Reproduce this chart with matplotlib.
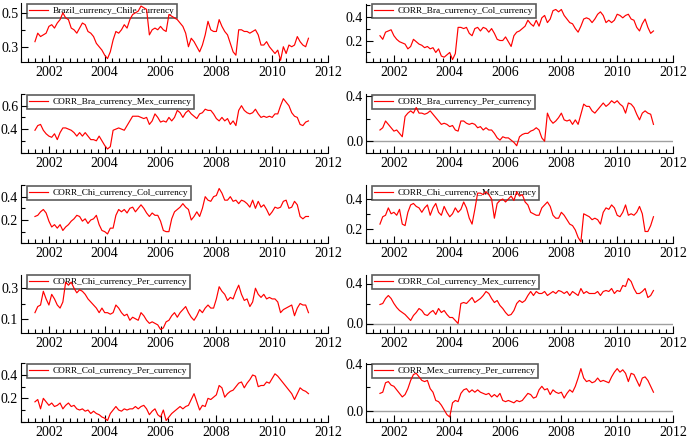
import numpy as np
import matplotlib
matplotlib.use("Agg")
import matplotlib.pyplot as plt
from matplotlib.ticker import MultipleLocator

plt.rcParams['font.family'] = ['Liberation Serif', 'DejaVu Serif']

# decimal-year dates, one reading every 0.1 year
years = np.round(np.arange(2001.5, 2011.35, 0.1), 1)

bra_chi = [0.33, 0.38, 0.36, 0.37, 0.38,
           0.42, 0.43, 0.41, 0.44, 0.46, 0.50, 0.47, 0.46, 0.41, 0.40,
           0.38, 0.41, 0.44, 0.43, 0.39, 0.38, 0.36, 0.32, 0.30, 0.28,
           0.25, 0.23, 0.27, 0.34, 0.39, 0.38, 0.40, 0.43, 0.41, 0.46,
           0.49, 0.50, 0.51, 0.54, 0.53, 0.52, 0.37, 0.40, 0.41, 0.40,
           0.42, 0.40, 0.39, 0.49, 0.48, 0.47, 0.46, 0.44, 0.42, 0.38,
           0.30, 0.35, 0.33, 0.30, 0.27, 0.31, 0.37, 0.45, 0.40, 0.39,
           0.39, 0.46, 0.42, 0.39, 0.37, 0.32, 0.27, 0.25, 0.40, 0.40,
           0.39, 0.39, 0.38, 0.39, 0.40, 0.37, 0.31, 0.31, 0.33, 0.30,
           0.28, 0.26, 0.28, 0.22, 0.30, 0.26, 0.31, 0.30, 0.31, 0.36,
           0.33, 0.31, 0.30, 0.35]

bra_col = [0.24, 0.21, 0.27, 0.28, 0.29,
           0.24, 0.21, 0.19, 0.18, 0.17, 0.13, 0.15, 0.21, 0.19, 0.17,
           0.16, 0.14, 0.15, 0.13, 0.14, 0.10, 0.13, 0.07, 0.06, 0.08,
           0.10, 0.04, 0.09, 0.31, 0.31, 0.30, 0.31, 0.26, 0.24, 0.30,
           0.31, 0.28, 0.31, 0.30, 0.27, 0.30, 0.26, 0.21, 0.20, 0.20,
           0.23, 0.19, 0.15, 0.24, 0.27, 0.28, 0.30, 0.32, 0.37, 0.34,
           0.32, 0.37, 0.32, 0.39, 0.41, 0.35, 0.38, 0.45, 0.46, 0.44,
           0.46, 0.41, 0.38, 0.35, 0.34, 0.30, 0.27, 0.32, 0.38, 0.39,
           0.38, 0.35, 0.38, 0.42, 0.44, 0.41, 0.35, 0.37, 0.35, 0.37,
           0.42, 0.41, 0.39, 0.41, 0.42, 0.38, 0.37, 0.31, 0.28, 0.34,
           0.38, 0.31, 0.26, 0.28]

bra_mex = [0.39, 0.43, 0.44, 0.39, 0.36,
           0.34, 0.33, 0.36, 0.31, 0.37, 0.41, 0.41, 0.40, 0.39, 0.37,
           0.34, 0.37, 0.34, 0.37, 0.34, 0.31, 0.31, 0.30, 0.34, 0.30,
           0.26, 0.23, 0.25, 0.39, 0.40, 0.41, 0.40, 0.39, 0.43, 0.47,
           0.51, 0.51, 0.51, 0.50, 0.49, 0.50, 0.44, 0.47, 0.53, 0.50,
           0.46, 0.47, 0.46, 0.50, 0.47, 0.50, 0.56, 0.54, 0.50, 0.54,
           0.56, 0.53, 0.51, 0.49, 0.53, 0.54, 0.57, 0.56, 0.56, 0.53,
           0.49, 0.47, 0.50, 0.47, 0.49, 0.44, 0.47, 0.43, 0.56, 0.60,
           0.56, 0.54, 0.53, 0.54, 0.57, 0.53, 0.50, 0.51, 0.50, 0.51,
           0.50, 0.53, 0.53, 0.60, 0.66, 0.63, 0.60, 0.54, 0.51, 0.50,
           0.44, 0.43, 0.46, 0.47]

bra_per = [0.10, 0.12, 0.18, 0.15, 0.12,
           0.09, 0.10, 0.07, 0.04, 0.22, 0.25, 0.27, 0.25, 0.30, 0.25,
           0.25, 0.24, 0.25, 0.27, 0.24, 0.21, 0.18, 0.15, 0.16, 0.15,
           0.13, 0.14, 0.10, 0.09, 0.18, 0.18, 0.16, 0.15, 0.16, 0.15,
           0.12, 0.13, 0.10, 0.12, 0.10, 0.10, 0.07, 0.03, 0.01, 0.04,
           0.03, 0.03, 0.01, -0.01, -0.04, 0.04, 0.06, 0.07, 0.07, 0.09,
           0.10, 0.12, 0.10, 0.03, 0.00, 0.25, 0.19, 0.16, 0.18, 0.21,
           0.25, 0.19, 0.18, 0.19, 0.15, 0.19, 0.15, 0.24, 0.33, 0.31,
           0.31, 0.27, 0.25, 0.28, 0.31, 0.34, 0.31, 0.33, 0.36, 0.34,
           0.36, 0.33, 0.31, 0.25, 0.34, 0.33, 0.30, 0.24, 0.19, 0.25,
           0.27, 0.25, 0.24, 0.15]

chi_col = [0.23, 0.24, 0.27, 0.29, 0.26,
           0.19, 0.14, 0.16, 0.13, 0.16, 0.11, 0.14, 0.16, 0.19, 0.21,
           0.24, 0.23, 0.19, 0.21, 0.17, 0.20, 0.21, 0.24, 0.16, 0.11,
           0.10, 0.08, 0.13, 0.13, 0.24, 0.29, 0.27, 0.29, 0.26, 0.30,
           0.31, 0.27, 0.30, 0.33, 0.30, 0.26, 0.23, 0.26, 0.24, 0.24,
           0.19, 0.11, 0.10, 0.10, 0.21, 0.27, 0.29, 0.31, 0.34, 0.31,
           0.29, 0.20, 0.23, 0.27, 0.23, 0.30, 0.40, 0.37, 0.36, 0.40,
           0.41, 0.47, 0.43, 0.37, 0.37, 0.40, 0.36, 0.37, 0.34, 0.37,
           0.36, 0.34, 0.31, 0.37, 0.30, 0.36, 0.31, 0.33, 0.29, 0.24,
           0.27, 0.31, 0.30, 0.31, 0.36, 0.37, 0.30, 0.31, 0.36, 0.33,
           0.23, 0.21, 0.23, 0.23]

chi_mex = [0.23, 0.28, 0.29, 0.34, 0.30,
           0.31, 0.29, 0.33, 0.23, 0.22, 0.31, 0.36, 0.37, 0.35, 0.34,
           0.31, 0.34, 0.36, 0.29, 0.34, 0.37, 0.31, 0.29, 0.35, 0.31,
           0.28, 0.30, 0.34, 0.31, 0.33, 0.38, 0.34, 0.27, 0.23, 0.33,
           0.44, 0.44, 0.43, 0.45, 0.43, 0.40, 0.27, 0.37, 0.39, 0.40,
           0.38, 0.40, 0.42, 0.39, 0.45, 0.42, 0.43, 0.38, 0.36, 0.31,
           0.30, 0.29, 0.29, 0.34, 0.36, 0.38, 0.35, 0.29, 0.27, 0.27,
           0.31, 0.29, 0.26, 0.23, 0.22, 0.19, 0.14, 0.11, 0.30, 0.29,
           0.28, 0.26, 0.27, 0.26, 0.23, 0.31, 0.34, 0.33, 0.36, 0.34,
           0.29, 0.28, 0.31, 0.36, 0.29, 0.30, 0.29, 0.31, 0.35, 0.30,
           0.18, 0.18, 0.22, 0.28]

chi_per = [0.14, 0.18, 0.19, 0.28, 0.23,
           0.19, 0.26, 0.23, 0.19, 0.17, 0.21, 0.34, 0.32, 0.34, 0.30,
           0.27, 0.29, 0.28, 0.26, 0.23, 0.21, 0.19, 0.17, 0.14, 0.17,
           0.14, 0.14, 0.13, 0.14, 0.19, 0.17, 0.14, 0.12, 0.13, 0.09,
           0.11, 0.10, 0.09, 0.14, 0.12, 0.09, 0.07, 0.08, 0.07, 0.06,
           0.03, 0.04, 0.08, 0.09, 0.12, 0.14, 0.11, 0.14, 0.16, 0.18,
           0.14, 0.11, 0.09, 0.12, 0.16, 0.14, 0.17, 0.19, 0.17, 0.17,
           0.23, 0.31, 0.28, 0.26, 0.22, 0.24, 0.23, 0.28, 0.32, 0.26,
           0.22, 0.23, 0.18, 0.21, 0.30, 0.26, 0.24, 0.26, 0.23, 0.24,
           0.23, 0.23, 0.21, 0.14, 0.16, 0.17, 0.18, 0.19, 0.12, 0.17,
           0.20, 0.19, 0.19, 0.14]

col_mex = [0.19, 0.20, 0.25, 0.28, 0.25,
           0.20, 0.16, 0.13, 0.11, 0.09, 0.06, 0.03, 0.08, 0.11, 0.15,
           0.13, 0.09, 0.08, 0.11, 0.13, 0.09, 0.15, 0.11, 0.13, 0.09,
           0.06, 0.06, 0.03, 0.00, 0.20, 0.21, 0.20, 0.23, 0.26, 0.21,
           0.23, 0.25, 0.28, 0.32, 0.30, 0.25, 0.21, 0.23, 0.18, 0.15,
           0.11, 0.08, 0.09, 0.13, 0.20, 0.23, 0.21, 0.23, 0.28, 0.32,
           0.28, 0.32, 0.30, 0.30, 0.32, 0.28, 0.30, 0.32, 0.30, 0.33,
           0.32, 0.30, 0.32, 0.28, 0.32, 0.30, 0.28, 0.35, 0.30, 0.32,
           0.30, 0.30, 0.30, 0.32, 0.28, 0.32, 0.33, 0.32, 0.35, 0.30,
           0.33, 0.32, 0.38, 0.37, 0.45, 0.42, 0.35, 0.30, 0.30, 0.32,
           0.35, 0.26, 0.28, 0.33]

col_per = [0.17, 0.19, 0.11, 0.20, 0.17,
           0.14, 0.16, 0.13, 0.14, 0.16, 0.11, 0.14, 0.16, 0.13, 0.14,
           0.11, 0.10, 0.11, 0.09, 0.10, 0.07, 0.09, 0.07, 0.06, 0.04,
           0.03, 0.01, 0.07, 0.10, 0.13, 0.10, 0.09, 0.11, 0.10, 0.11,
           0.11, 0.13, 0.11, 0.13, 0.14, 0.11, 0.06, 0.09, 0.11, 0.06,
           0.04, 0.10, 0.01, 0.04, 0.07, 0.09, 0.11, 0.13, 0.11, 0.13,
           0.14, 0.19, 0.24, 0.17, 0.10, 0.14, 0.13, 0.20, 0.19, 0.21,
           0.23, 0.31, 0.29, 0.21, 0.24, 0.26, 0.27, 0.30, 0.33, 0.34,
           0.29, 0.33, 0.36, 0.40, 0.39, 0.30, 0.31, 0.31, 0.34, 0.33,
           0.37, 0.41, 0.39, 0.36, 0.33, 0.30, 0.27, 0.24, 0.19, 0.24,
           0.29, 0.27, 0.26, 0.24]

mex_per = [0.15, 0.16, 0.24, 0.25, 0.22,
           0.21, 0.18, 0.15, 0.12, 0.14, 0.19, 0.26, 0.31, 0.32, 0.29,
           0.26, 0.25, 0.26, 0.19, 0.16, 0.09, 0.08, 0.05, 0.01, -0.03,
           -0.05, 0.07, 0.09, 0.08, 0.15, 0.18, 0.19, 0.16, 0.18, 0.16,
           0.18, 0.16, 0.15, 0.14, 0.15, 0.12, 0.14, 0.12, 0.15, 0.09,
           0.08, 0.09, 0.08, 0.07, 0.09, 0.08, 0.09, 0.12, 0.15, 0.14,
           0.11, 0.12, 0.18, 0.21, 0.18, 0.19, 0.14, 0.18, 0.16, 0.15,
           0.16, 0.11, 0.15, 0.18, 0.16, 0.21, 0.28, 0.36, 0.28, 0.25,
           0.26, 0.24, 0.25, 0.28, 0.25, 0.26, 0.25, 0.24, 0.29, 0.33,
           0.36, 0.33, 0.35, 0.32, 0.25, 0.32, 0.31, 0.26, 0.21, 0.28,
           0.29, 0.26, 0.21, 0.16]

series = [bra_chi, bra_col, bra_mex, bra_per, chi_col,
          chi_mex, chi_per, col_mex, col_per, mex_per]
labels = ["Brazil_currency_Chile_currency", "CORR_Bra_currency_Col_currency",
          "CORR_Bra_currency_Mex_currency", "CORR_Bra_currency_Per_currency",
          "CORR_Chi_currency_Col_currency", "CORR_Chi_currency_Mex_currency",
          "CORR_Chi_currency_Per_currency", "CORR_Col_currency_Mex_currency",
          "CORR_Col_currency_Per_currency", "CORR_Mex_currency_Per_currency"]
ylims = [(0.21, 0.555), (0.02, 0.51), (0.2, 0.70), (-0.10, 0.42), (0.0, 0.50),
         (0.10, 0.495), (0.01, 0.39), (-0.09, 0.49), (0.0, 0.50), (-0.09, 0.405)]
ymajor = [0.2, 0.2, 0.2, 0.4, 0.2, 0.2, 0.2, 0.4, 0.2, 0.4]
yticks = [[0.3, 0.5], [0.2, 0.4], [0.4, 0.6], [0.0, 0.4], [0.2, 0.4],
          [0.2, 0.4], [0.1, 0.3], [0.0, 0.4], [0.2, 0.4], [0.0, 0.4]]
zero_line = [False, False, False, True, False, False, False, True, False, True]

W, H = 696, 442
fig = plt.figure(figsize=(W / 100, H / 100), dpi=100)
col_x = [(21, 328), (366, 673)]
row_y = [(3.5, 62), (94, 152.5), (185, 243.3), (274.5, 332.5), (363.3, 421.7)]

for i in range(10):
    r, c = divmod(i, 2)
    x0, x1 = col_x[c]
    y0, y1 = row_y[r]
    ax = fig.add_axes([x0 / W, 1 - y1 / H, (x1 - x0) / W, (y1 - y0) / H])
    if zero_line[i]:
        ax.axhline(0, color="#a0a0a0", lw=1.0, zorder=1)
    ax.plot(years, series[i], color="red", lw=0.85, zorder=3, label=labels[i])
    ax.set_xlim(2001, 2012)
    ax.set_ylim(*ylims[i])
    ax.set_xticks(range(2002, 2013, 2))
    ax.xaxis.set_minor_locator(MultipleLocator(0.25))
    ax.set_yticks(yticks[i])
    ax.yaxis.set_minor_locator(MultipleLocator(ymajor[i] / 2))
    ax.yaxis.set_major_formatter(plt.FormatStrFormatter("%.1f"))
    for s in ["top", "right"]:
        ax.spines[s].set_visible(False)
    ax.tick_params(which="both", direction="in", labelsize=10, width=0.8)
    ax.tick_params(which="major", length=5)
    ax.tick_params(which="minor", length=3)
    ax.tick_params(axis="x", pad=3)
    ax.tick_params(axis="y", pad=2)
    leg = ax.legend(loc="upper left", bbox_to_anchor=(0.018, 0.99), fontsize=6.7,
                    frameon=True, fancybox=False, handlelength=2.0,
                    borderpad=0.3, handletextpad=0.5, borderaxespad=0)
    leg.get_frame().set_edgecolor("#333333")
    leg.get_frame().set_linewidth(1.2)
    leg.set_zorder(2)

fig.savefig("out.png", dpi=100)
